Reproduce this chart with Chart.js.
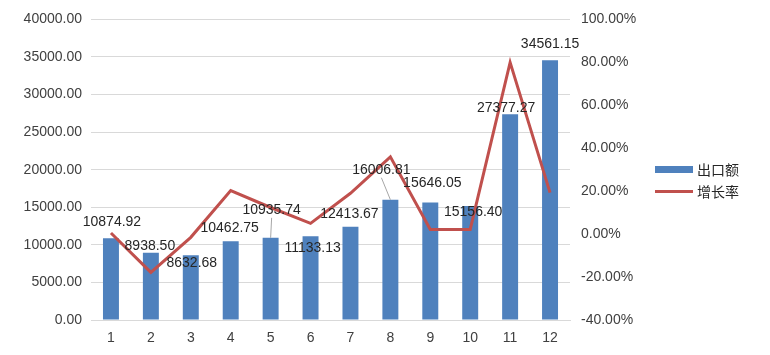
<!DOCTYPE html>
<html>
<head>
<meta charset="utf-8">
<script src="https://cdn.jsdelivr.net/npm/chart.js@4/dist/chart.umd.min.js"></script>
<style>
  html, body { margin: 0; padding: 0; background: #ffffff; }
  #wrap { position: relative; width: 770px; height: 355px; }
  #legend { position: absolute; left: 655px; top: 158px; font-family: "Noto Sans CJK SC", sans-serif; font-size: 14px; color: #262626; }
  .item { display: flex; align-items: center; height: 22px; }
  .sw { width: 38px; margin-right: 4px; }
</style>
</head>
<body>
<div id="wrap">
  <canvas id="c" width="770" height="355"></canvas>
  <div id="legend">
    <div class="item"><span class="sw" style="height:7px;background:#4f81bd"></span><span>出口额</span></div>
    <div class="item"><span class="sw" style="height:3px;background:#c0504d"></span><span>增长率</span></div>
  </div>
</div>
<script>
// ---- data ----
const categories = ['1', '2', '3', '4', '5', '6', '7', '8', '9', '10', '11', '12'];
const exportValues = [10874.92, 8938.50, 8632.68, 10462.75, 10935.74, 11133.13, 12413.67, 16006.81, 15646.05, 15156.40, 27377.27, 34561.15];
const growthRates = [0.5, -17.8, -1.5, 20.3, 12.4, 5.0, 19.0, 36.0, 2.2, 2.2, 80.0, 19.3];
const seriesNames = ['出口额', '增长率'];

// label placement (style): offset from bar top, and whether a leader line is drawn
const labelOffsets = [[1,-16],[-1,-7],[1,8],[-1,-13],[1,-28],[2,12],[-1,-13],[-9,-30],[2,-19],[3,6],[-4,-6],[0,-16]];
const leaderLines = [false,false,false,false,true,false,false,true,false,false,false,false];

const FONT = '"Liberation Sans", Arial, sans-serif';

const dataLabels = {
  id: 'dataLabels',
  afterDatasetsDraw(chart) {
    const ctx = chart.ctx;
    const meta = chart.getDatasetMeta(0);
    ctx.save();
    ctx.font = '14px ' + FONT;
    ctx.textAlign = 'center';
    ctx.textBaseline = 'middle';
    meta.data.forEach((bar, i) => {
      const [dx, dy] = labelOffsets[i];
      const lx = bar.x + dx, ly = bar.y + dy;
      if (leaderLines[i]) {
        ctx.strokeStyle = '#a6a6a6';
        ctx.lineWidth = 1;
        ctx.beginPath();
        ctx.moveTo(lx, ly + 8);
        ctx.lineTo(bar.x, bar.y);
        ctx.stroke();
      }
      ctx.fillStyle = '#262626';
      ctx.fillText(exportValues[i].toFixed(2), lx, ly);
    });
    ctx.restore();
  }
};

new Chart(document.getElementById('c'), {
  data: {
    labels: categories,
    datasets: [
      {
        type: 'bar', label: seriesNames[0], data: exportValues, yAxisID: 'y',
        backgroundColor: '#4f81bd', barPercentage: 0.4, categoryPercentage: 1.0, order: 2
      },
      {
        type: 'line', label: seriesNames[1], data: growthRates, yAxisID: 'y1',
        borderColor: '#c0504d', borderWidth: 3, pointRadius: 0, tension: 0, fill: false, order: 1
      }
    ]
  },
  options: {
    responsive: false,
    animation: false,
    layout: { padding: { top: 18, right: 130, bottom: 0, left: 0 } },
    plugins: { legend: { display: false }, tooltip: { enabled: false } },
    scales: {
      x: {
        grid: { display: false, drawTicks: false },
        border: { display: true, color: '#d9d9d9' },
        ticks: { color: '#404040', font: { family: FONT, size: 14 }, padding: 10 },
        afterFit: s => { s.height = 35; }
      },
      y: {
        position: 'left', min: 0, max: 40000,
        ticks: { stepSize: 5000, color: '#404040', font: { family: FONT, size: 14 }, padding: 9,
                 callback: v => Number(v).toFixed(2) },
        grid: { color: '#d9d9d9', drawTicks: false },
        border: { display: false },
        afterFit: s => { s.width = 91; }
      },
      y1: {
        position: 'right', min: -40, max: 100,
        ticks: { stepSize: 20, color: '#404040', font: { family: FONT, size: 14 }, padding: 11,
                 callback: v => Number(v).toFixed(2) + '%' },
        grid: { display: false, drawTicks: false },
        border: { display: false },
        afterFit: s => { s.width = 70; }
      }
    }
  },
  plugins: [dataLabels]
});
</script>
</body>
</html>
